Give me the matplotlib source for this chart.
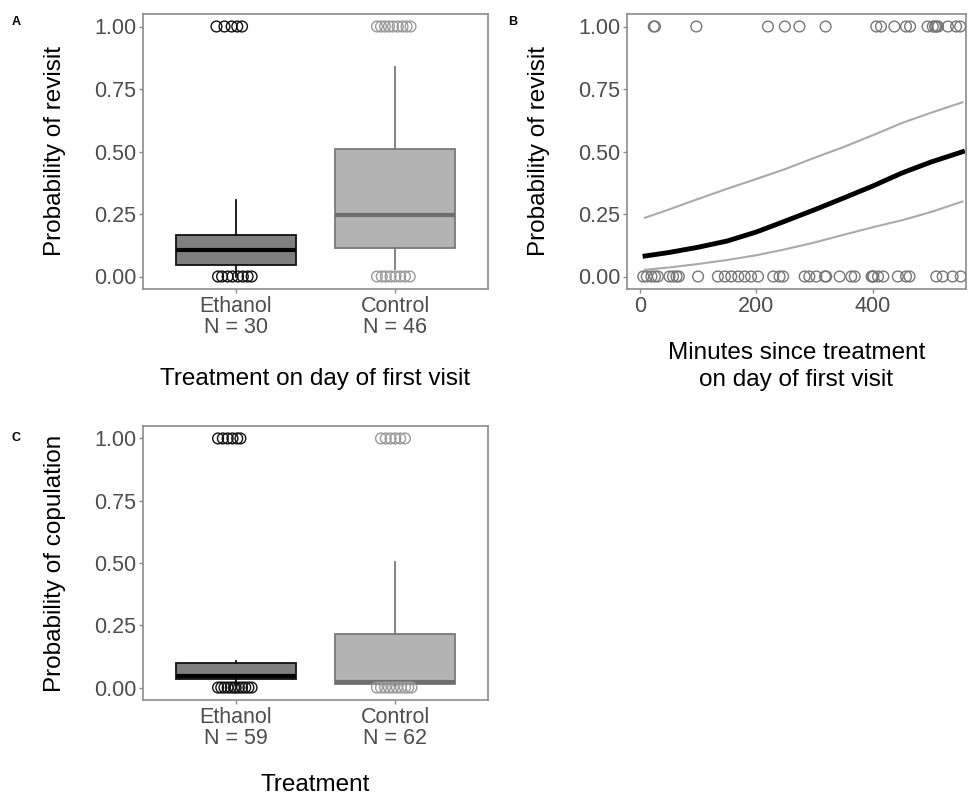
import matplotlib
matplotlib.use("Agg")
import matplotlib.pyplot as plt
import numpy as np

plt.rcParams['font.family'] = ['Liberation Sans', 'DejaVu Sans']

# ---- panel A: revisit by treatment (box stats)
groups = ["Ethanol\nN = 30", "Control\nN = 46"]
a_q1 = [0.047, 0.114]
a_med = [0.105, 0.245]
a_q3 = [0.168, 0.511]
a_lo = [0.0, 0.032]
a_hi = [0.305, 0.837]
# jittered raw outcomes (offset from category centre)
a_eth_1 = [-0.12, -0.07, -0.025, 0.01, 0.04]
a_eth_0 = [-0.11, -0.085, -0.05, -0.02, 0.015, 0.045, 0.075, 0.10]
a_con_1 = [-0.115, -0.09, -0.065, -0.04, -0.015, 0.015, 0.045, 0.07, 0.095]
a_con_0 = [-0.115, -0.085, -0.06, -0.03, 0.0, 0.03, 0.06, 0.09]

# ---- panel B: revisit vs minutes since treatment
b_x1 = [24, 26, 97, 220, 249, 274, 319, 406, 414, 437, 457, 464, 494, 503,
        507, 509, 512, 529, 543, 550]
b_x0 = [6, 12, 20, 26, 31, 51, 57, 63, 67, 100, 134, 146, 157, 169, 180, 191,
        203, 229, 240, 246, 283, 291, 303, 318, 320, 343, 363, 369, 398, 400,
        401, 409, 418, 443, 457, 463, 509, 520, 537, 551]
b_cx = [9, 50, 100, 150, 200, 250, 300, 350, 400, 450, 500, 554]
b_fit = [0.082, 0.096, 0.117, 0.142, 0.178, 0.222, 0.267, 0.314, 0.362,
         0.414, 0.458, 0.499]
b_upr = [0.235, 0.268, 0.310, 0.351, 0.390, 0.430, 0.475, 0.518, 0.565,
         0.614, 0.655, 0.697]
b_lwr = [0.027, 0.036, 0.050, 0.066, 0.085, 0.109, 0.136, 0.167, 0.197,
         0.225, 0.258, 0.300]

# ---- panel C: copulation by treatment
groups_c = ["Ethanol\nN = 59", "Control\nN = 62"]
c_q1 = [0.035, 0.016]
c_med = [0.045, 0.022]
c_q3 = [0.099, 0.216]
c_lo = [0.0, 0.0]
c_hi = [0.105, 0.505]
c_eth_1 = [-0.11, -0.08, -0.05, -0.02, 0.01, 0.03]
c_eth_0 = [-0.11, -0.09, -0.07, -0.05, -0.03, -0.01, 0.0, 0.02, 0.04, 0.06,
           0.08, 0.10]
c_con_1 = [-0.09, -0.06, -0.03, 0.0, 0.03, 0.06]
c_con_0 = [-0.115, -0.09, -0.065, -0.04, -0.015, 0.01, 0.035, 0.06, 0.08, 0.1]

fills = ["#7f7f7f", "#b3b3b3"]
edges = ["#111111", "#7a7a7a"]
meds = ["#000000", "#6e6e6e"]
ptcol = ["#111111", "#9a9a9a"]

fig = plt.figure(figsize=(9.79, 7.99), dpi=100)
W, H = 979, 799

def add_ax(l, t, r, b):
    return fig.add_axes([l / W, 1 - b / H, (r - l) / W, (b - t) / H])

def style(ax):
    for s in ax.spines.values():
        s.set_color("#8c8c8c")
        s.set_linewidth(1.2)
    ax.tick_params(colors="#8c8c8c", labelcolor="#4d4d4d", labelsize=15.5,
                   length=3, width=1, pad=2)
    ax.set_ylim(-0.05, 1.05)
    ax.set_yticks([0, 0.25, 0.5, 0.75, 1.0])
    ax.set_yticklabels(["0.00", "0.25", "0.50", "0.75", "1.00"])

def boxes(ax, q1, med, q3, lo, hi, labels, pts):
    stats = []
    for i in range(2):
        stats.append(dict(q1=q1[i], med=med[i], q3=q3[i], whislo=lo[i],
                          whishi=hi[i], fliers=[]))
    for i in range(2):
        ax.bxp([stats[i]], positions=[i + 1], widths=0.75, patch_artist=True,
               showcaps=False,
               boxprops=dict(facecolor=fills[i], edgecolor=edges[i], lw=1.3),
               medianprops=dict(color=meds[i], lw=3),
               whiskerprops=dict(color=edges[i], lw=1.3))
    for i, (p1, p0) in enumerate(pts):
        ax.scatter(np.array(p1) + i + 1, np.ones(len(p1)), s=60,
                   facecolors="none", edgecolors=ptcol[i], lw=1, zorder=5)
        ax.scatter(np.array(p0) + i + 1, np.zeros(len(p0)), s=60,
                   facecolors="none", edgecolors=ptcol[i], lw=1, zorder=5)
    ax.set_xlim(0.42, 2.58)
    ax.set_xticks([1, 2])
    ax.set_xticklabels(labels, linespacing=1.0)

axA = add_ax(143, 14, 488, 289)
boxes(axA, a_q1, a_med, a_q3, a_lo, a_hi, groups,
      [(a_eth_1, a_eth_0), (a_con_1, a_con_0)])
style(axA)
axA.set_ylabel("Probability of revisit", fontsize=17.5, labelpad=20)
axA.set_xlabel("Treatment on day of first visit", fontsize=17.5, labelpad=22)

axB = add_ax(627, 14, 966, 289)
axB.scatter(b_x1, np.ones(len(b_x1)), s=60, facecolors="none",
            edgecolors="#777777", lw=1, zorder=5)
axB.scatter(b_x0, np.zeros(len(b_x0)), s=60, facecolors="none",
            edgecolors="#777777", lw=1, zorder=5)
axB.plot(b_cx, b_upr, color="#aaaaaa", lw=1.5)
axB.plot(b_cx, b_lwr, color="#aaaaaa", lw=1.5)
axB.plot(b_cx, b_fit, color="black", lw=3.5)
axB.set_xlim(-22, 560)
axB.set_xticks([0, 200, 400])
style(axB)
axB.set_ylabel("Probability of revisit", fontsize=17.5, labelpad=20)
axB.set_xlabel("Minutes since treatment\non day of first visit",
               fontsize=17.5, labelpad=18, linespacing=1.3)

axC = add_ax(143, 426, 488, 700)
boxes(axC, c_q1, c_med, c_q3, c_lo, c_hi, groups_c,
      [(c_eth_1, c_eth_0), (c_con_1, c_con_0)])
style(axC)
axC.set_ylabel("Probability of copulation", fontsize=17.5, labelpad=20)
axC.set_xlabel("Treatment", fontsize=17.5, labelpad=18)

fig.text(12 / W, 1 - 22 / H, "A", fontsize=9, fontweight="bold", va="center")
fig.text(508 / W, 1 - 22 / H, "B", fontsize=9, fontweight="bold", va="center")
fig.text(12 / W, 1 - 438 / H, "C", fontsize=9, fontweight="bold", va="center")

fig.savefig("out.png", dpi=100)
